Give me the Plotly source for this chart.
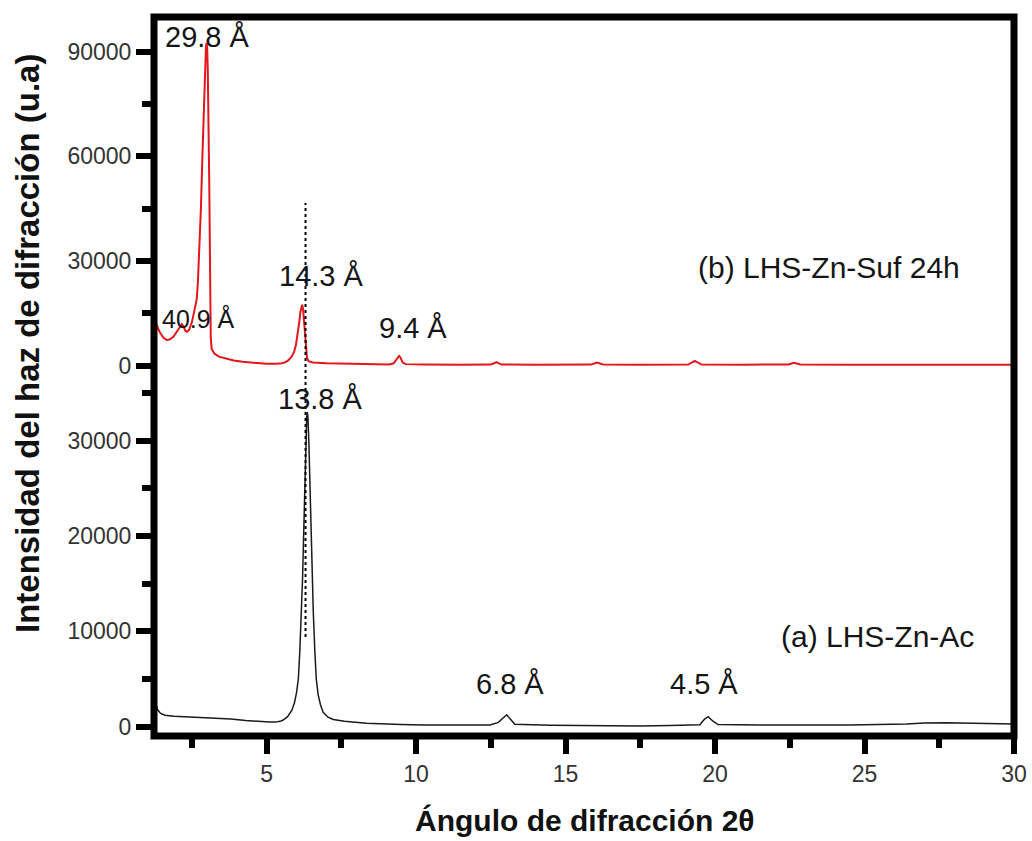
import plotly.graph_objects as go

# ---------------- data ----------------
# (a) LHS-Zn-Ac  (black, lower panel)
ac_2theta = [1.23, 1.28, 1.35, 1.45, 1.60, 1.90, 2.20, 2.70, 3.30, 3.80, 4.30, 4.70, 5.10, 5.30,
             5.45, 5.55, 5.70, 5.84, 5.93, 6.00, 6.06, 6.11, 6.16, 6.20, 6.24, 6.28, 6.31, 6.34,
             6.36, 6.38, 6.41, 6.44, 6.48, 6.52, 6.56, 6.61, 6.66, 6.72, 6.80, 6.89, 7.05, 7.23,
             7.60, 8.34, 8.79, 9.50, 10.24, 11.50, 12.47, 12.75, 12.92, 13.03, 13.15, 13.30,
             14.50, 15.50, 17.48, 18.50, 19.49, 19.65, 19.77, 19.92, 20.10, 21.50, 23.00, 24.50,
             26.40, 27.00, 27.74, 28.40, 29.00, 30.00]
ac_int = [3000, 2500, 1800, 1400, 1200, 1100, 1050, 990, 900, 820, 650, 530, 480, 480,
          560, 700, 1050, 1700, 2500, 3600, 5000, 8000, 12000, 15500, 20500, 26000, 30000, 32500,
          33000, 32500, 30000, 26000, 20500, 15500, 12000, 8000, 5000, 3400, 2300, 1500, 1000, 750,
          560, 360, 280, 220, 180, 170, 190, 450, 1000, 1250, 800, 250,
          150, 120, 80, 120, 200, 800, 1050, 600, 220, 170, 150, 170,
          280, 380, 420, 380, 320, 280]

# (b) LHS-Zn-Suf 24h  (red, upper panel)
suf_2theta = [1.23, 1.30, 1.37, 1.45, 1.55, 1.65, 1.75, 1.88, 2.00, 2.10, 2.16, 2.22, 2.28, 2.33,
              2.40, 2.50, 2.58, 2.66, 2.70, 2.74, 2.77, 2.80, 2.85, 2.90, 2.94, 2.97, 2.99, 3.01,
              3.03, 3.06, 3.08, 3.11, 3.13, 3.16, 3.25, 3.40, 3.60, 3.90, 4.20, 4.60, 5.00, 5.30,
              5.45, 5.60, 5.72, 5.83, 5.92, 5.98, 6.04, 6.09, 6.13, 6.17, 6.19, 6.22, 6.25, 6.28,
              6.31, 6.35, 6.40, 6.55, 7.00, 7.60, 8.34, 9.10, 9.25, 9.35, 9.43, 9.48, 9.55, 9.65,
              10.24, 11.50, 12.50, 12.69, 12.85, 14.00, 15.85, 16.05, 16.25, 17.50, 19.10, 19.32,
              19.55, 21.00, 22.45, 22.64, 22.85, 24.50, 26.00, 28.00, 30.00]
suf_int = [13600, 12000, 10600, 9200, 8000, 7400, 7500, 8300, 9800, 11300, 11900, 11200, 10000, 9700,
           10200, 12500, 15500, 19000, 24000, 31000, 38000, 45000, 60000, 76000, 87000, 91500, 92500, 91000,
           85000, 70000, 52000, 25000, 8000, 4800, 3500, 2600, 2100, 1500, 1100, 750, 550, 550,
           600, 900, 1500, 2500, 4000, 6000, 9000, 12500, 15500, 17200, 17500, 16000, 12500, 8000,
           4500, 2200, 1300, 900, 700, 550, 480, 380, 700, 1700, 2800, 2300, 900, 450,
           330, 300, 330, 1000, 330, 300, 320, 900, 330, 300, 330, 1400,
           330, 300, 330, 850, 330, 300, 320, 280, 260]

x_major = [5, 10, 15, 20, 25, 30]
x_minor = [2.5, 7.5, 12.5, 17.5, 22.5, 27.5]
x_range = [1.231, 30]

ya_ticks = [0, 10000, 20000, 30000]
ya_minor = [5000, 15000, 25000, 35000]
ya_labels = ["0", "10000", "20000", "30000"]
ya_range = [-976, 74470]

yb_ticks = [0, 30000, 60000, 90000]
yb_minor = [15000, 45000, 75000]
yb_labels = ["0", "30000", "60000", "90000"]
yb_range = [-106130, 99940]

dotted_x = 6.30

peak_labels = ["29.8 Å", "40.9 Å", "14.3 Å", "9.4 Å", "13.8 Å", "6.8 Å", "4.5 Å"]
sample_labels = ["(b) LHS-Zn-Suf 24h", "(a) LHS-Zn-Ac"]

# ---------------- layout helpers ----------------
W, H = 1032, 841
L, R, T, B = 154, 18, 17, 105
PW, PH = W - L - R, H - T - B


def px(xp):
    return (xp - L) / PW


def py(yp):
    return (H - B - yp) / PH


FONT = "Liberation Sans, Arial, sans-serif"

fig = go.Figure()
fig.add_trace(go.Scatter(x=ac_2theta, y=ac_int, mode="lines", yaxis="y",
                         line=dict(color="#1a1a1a", width=1.5), showlegend=False))
fig.add_trace(go.Scatter(x=suf_2theta, y=suf_int, mode="lines", yaxis="y2",
                         line=dict(color="#e3161c", width=2), showlegend=False))

tick_common = dict(ticks="outside", ticklen=17, tickwidth=6, tickcolor="black",
                   showgrid=False, zeroline=False, showline=False, automargin=False,
                   tickfont=dict(family=FONT, size=23, color="#333333"))
minor_common = dict(tickmode="array", ticks="outside", ticklen=11, tickwidth=6,
                    tickcolor="black", showgrid=False)

fig.update_layout(
    template="none",
    width=W, height=H,
    margin=dict(l=L, r=R, t=T, b=B, pad=0),
    paper_bgcolor="white", plot_bgcolor="white",
    showlegend=False,
    xaxis=dict(range=x_range, tickmode="array", tickvals=x_major,
               ticktext=[str(v) for v in x_major],
               minor=dict(tickvals=x_minor, **minor_common),
               **tick_common),
    yaxis=dict(range=ya_range, tickmode="array", tickvals=ya_ticks, ticktext=ya_labels,
               minor=dict(tickvals=ya_minor, **minor_common),
               **tick_common),
    yaxis2=dict(range=yb_range, overlaying="y", side="left", anchor="x",
                tickmode="array", tickvals=yb_ticks, ticktext=yb_labels,
                minor=dict(tickvals=yb_minor, **minor_common),
                **tick_common),
)

# frame
fig.add_shape(type="rect", xref="paper", yref="paper", x0=0, x1=1, y0=0, y1=1,
              line=dict(color="black", width=7), layer="above")
# dotted guide line
fig.add_shape(type="line", xref="x", yref="paper", x0=dotted_x, x1=dotted_x,
              y0=py(637), y1=py(203), line=dict(color="black", width=2, dash="dot"))

# peak labels
label_pos = [(207, 37, 29), (198, 318, 25), (321, 276, 29), (413, 328, 29),
             (320, 399, 29), (510, 684, 29), (704, 684, 29)]
for txt, (xp, yp, fs) in zip(peak_labels, label_pos):
    fig.add_annotation(text=txt, xref="paper", yref="paper", x=px(xp), y=py(yp),
                       xanchor="center", yanchor="middle", showarrow=False,
                       font=dict(family=FONT, size=fs, color="#151515"))

for txt, (xp, yp) in zip(sample_labels, [(829, 267), (877, 636)]):
    fig.add_annotation(text=txt, xref="paper", yref="paper", x=px(xp), y=py(yp),
                       xanchor="center", yanchor="middle", showarrow=False,
                       font=dict(family=FONT, size=30, color="#151515"))

# axis titles
fig.add_annotation(text="<b>Ángulo de difracción 2θ</b>", xref="paper", yref="paper",
                   x=px(585), y=py(821), xanchor="center", yanchor="middle", showarrow=False,
                   font=dict(family=FONT, size=30, color="#111111"))
fig.add_annotation(text="<b>Intensidad del haz de difracción (u.a)</b>", xref="paper", yref="paper",
                   x=px(28), y=py(344), xanchor="center", yanchor="middle", showarrow=False,
                   textangle=-90, font=dict(family=FONT, size=33, color="#111111"))

fig.write_html("out.html")
